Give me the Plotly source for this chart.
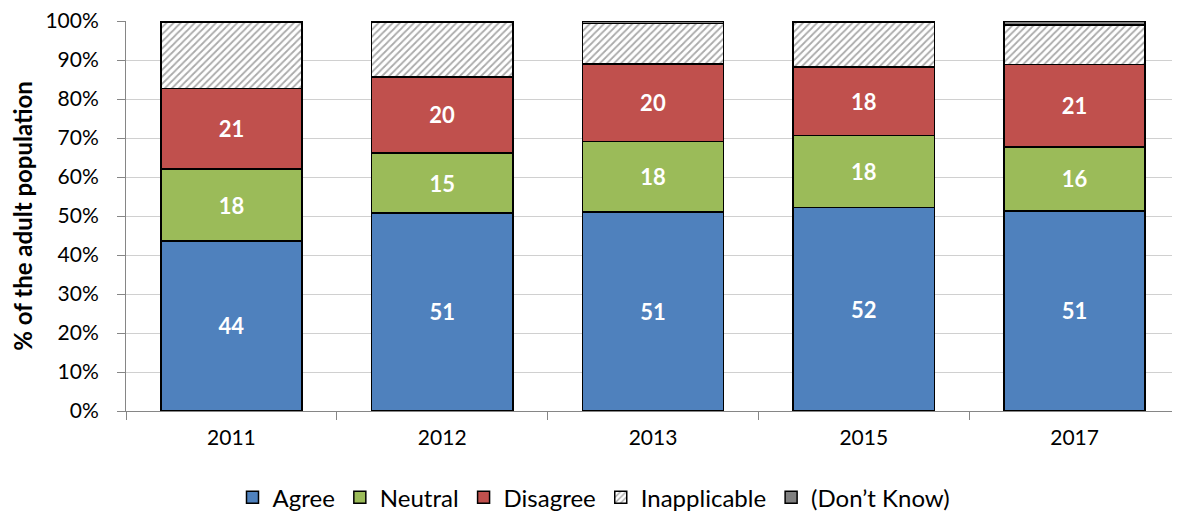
import plotly.graph_objects as go

years = ["2011", "2012", "2013", "2015", "2017"]

agree = [43.6, 50.8, 51.0, 52.2, 51.3]
neutral = [18.4, 15.3, 18.1, 18.4, 16.4]
disagree = [20.7, 19.6, 19.9, 17.6, 21.1]
inapplicable = [17.0, 13.9, 10.4, 11.4, 10.2]
dont_know = [0.3, 0.4, 0.6, 0.4, 1.0]

font = "Lato, 'Liberation Sans', sans-serif"

fig = go.Figure()

def add(name, vals, color, label=False, pattern=None):
    marker = dict(color=color, line=dict(color="black", width=1.5))
    if pattern:
        marker["pattern"] = dict(shape=pattern, fgcolor="#555555", bgcolor="white",
                                 size=5, solidity=0.35)
    fig.add_trace(go.Bar(
        x=years, y=vals, name=name, marker=marker,
        texttemplate="%{y:.0f}" if label else None,
        textposition="inside" if label else "none",
        insidetextanchor="middle",
        textfont=dict(color="white", size=22, family=font, weight="bold"),
    ))

add("Agree", agree, "#4F81BD", label=True)
add("Neutral", neutral, "#9BBB59", label=True)
add("Disagree", disagree, "#C0504D", label=True)
add("Inapplicable", inapplicable, "white", pattern="/")
add("(Don\u2019t Know)", dont_know, "#808080")

# page body has an 8px margin, so the figure is 8px smaller than the window
fig.update_layout(
    barmode="stack",
    bargap=0.33,
    width=1172, height=507,
    margin=dict(l=118, r=0, t=13, b=104, autoexpand=False),
    plot_bgcolor="white", paper_bgcolor="white",
    font=dict(family=font, size=21, color="black"),
    showlegend=True,
    legend=dict(orientation="h", xref="container", x=0.5, xanchor="center",
                y=-0.222, yanchor="middle",
                font=dict(size=24), itemwidth=30, traceorder="normal"),
    uniformtext=dict(mode="show", minsize=10),
)
fig.update_xaxes(
    showline=True, linecolor="#868686", linewidth=1,
    ticks="outside", tickson="boundaries", ticklen=8, tickcolor="#868686",
    tickfont=dict(size=21), ticklabelstandoff=8,
)
fig.update_yaxes(
    range=[0, 100], dtick=10, ticksuffix="%",
    showline=True, linecolor="#868686", linewidth=1,
    ticks="outside", ticklen=8, tickcolor="#868686",
    showgrid=True, gridcolor="#D0D0D0", gridwidth=1,
    title=dict(text="<b>% of the adult population</b>", font=dict(size=24), standoff=10),
    tickfont=dict(size=21), ticklabelstandoff=14, ticklabeloverflow="allow",
)

fig.write_html("out.html")
